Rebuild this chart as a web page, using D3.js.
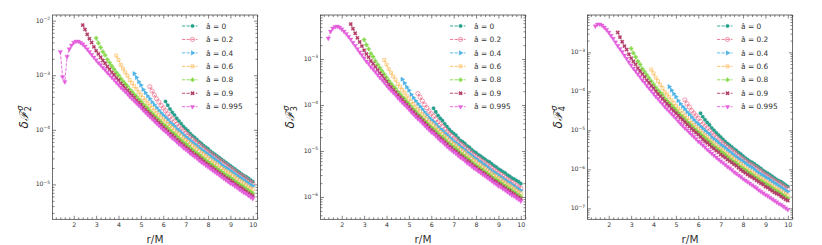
<!DOCTYPE html>
<html><head><meta charset="utf-8">
<script src="https://cdn.jsdelivr.net/npm/d3@7"></script>
<style>body{margin:0;background:#fff}svg{display:block}text{font-family:"DejaVu Sans",sans-serif}</style>
</head><body><svg id="c" width="822" height="245"></svg>
<script>
// ---- data (values are log10 of delta F) ----
const rGrid = [1.4,1.5,1.6,1.7,1.8,1.9,2.0,2.1,2.2,2.3,2.4,2.5,2.6,2.7,2.8,2.9,3.0,3.1,3.2,3.3,3.4,3.5,3.6,3.7,3.8,3.9,4.0,4.1,4.2,4.3,4.4,4.5,4.6,4.7,4.8,4.9,5.0,5.1,5.2,5.3,5.4,5.5,5.6,5.7,5.8,5.9,6.0,6.1,6.2,6.3,6.4,6.5,6.6,6.7,6.8,6.9,7.0,7.1,7.2,7.3,7.4,7.5,7.6,7.7,7.8,7.9,8.0,8.1,8.2,8.3,8.4,8.5,8.6,8.7,8.8,8.9,9.0,9.1,9.2,9.3,9.4,9.5,9.6,9.7,9.8,9.9,10.0];
const spins = ["0","0.2","0.4","0.6","0.8","0.9","0.995"];
const xTicks = [2,3,4,5,6,7,8,9,10];

// panel 1 : delta F_2
const F2_a0 = [-3.48,-3.55,-3.62,-3.68,-3.73,-3.79,-3.84,-3.89,-3.94,-3.98,-4.02,-4.07,-4.11,-4.14,-4.18,-4.22,-4.25,-4.29,-4.32,-4.35,-4.39,-4.42,-4.45,-4.48,-4.51,-4.54,-4.57,-4.60,-4.63,-4.66,-4.69,-4.72,-4.75,-4.78,-4.81,-4.84,-4.86,-4.89,-4.92,-4.95];
const F2_a02 = [-3.21,-3.29,-3.36,-3.43,-3.49,-3.55,-3.60,-3.65,-3.71,-3.76,-3.80,-3.85,-3.90,-3.94,-3.98,-4.02,-4.06,-4.09,-4.13,-4.17,-4.20,-4.23,-4.27,-4.30,-4.34,-4.37,-4.40,-4.43,-4.46,-4.49,-4.52,-4.55,-4.58,-4.61,-4.64,-4.67,-4.70,-4.73,-4.76,-4.79,-4.82,-4.84,-4.87,-4.90,-4.93,-4.96,-4.98];
const F2_a04 = [-2.97,-3.04,-3.12,-3.18,-3.26,-3.32,-3.38,-3.43,-3.49,-3.54,-3.59,-3.64,-3.69,-3.73,-3.77,-3.81,-3.86,-3.90,-3.93,-3.98,-4.01,-4.05,-4.09,-4.13,-4.16,-4.19,-4.23,-4.26,-4.29,-4.33,-4.36,-4.39,-4.42,-4.45,-4.48,-4.51,-4.54,-4.57,-4.60,-4.64,-4.67,-4.70,-4.72,-4.75,-4.78,-4.81,-4.84,-4.87,-4.89,-4.92,-4.95,-4.98,-5.01,-5.03];
const F2_a06 = [-2.64,-2.72,-2.81,-2.88,-2.95,-3.01,-3.09,-3.14,-3.20,-3.25,-3.31,-3.36,-3.42,-3.46,-3.51,-3.56,-3.60,-3.65,-3.69,-3.73,-3.78,-3.81,-3.85,-3.89,-3.93,-3.97,-4.01,-4.05,-4.08,-4.12,-4.16,-4.19,-4.22,-4.26,-4.29,-4.32,-4.35,-4.39,-4.42,-4.45,-4.48,-4.51,-4.55,-4.58,-4.61,-4.64,-4.67,-4.70,-4.73,-4.76,-4.78,-4.81,-4.84,-4.87,-4.90,-4.93,-4.95,-4.98,-5.01,-5.04,-5.07,-5.09];
const F2_a08 = [-2.32,-2.41,-2.49,-2.57,-2.63,-2.71,-2.77,-2.83,-2.89,-2.95,-3.00,-3.06,-3.11,-3.16,-3.20,-3.26,-3.30,-3.35,-3.39,-3.44,-3.48,-3.53,-3.57,-3.61,-3.66,-3.70,-3.74,-3.78,-3.82,-3.86,-3.90,-3.93,-3.97,-4.01,-4.05,-4.08,-4.12,-4.16,-4.19,-4.23,-4.26,-4.29,-4.33,-4.37,-4.40,-4.43,-4.46,-4.49,-4.53,-4.56,-4.59,-4.62,-4.65,-4.68,-4.71,-4.74,-4.77,-4.80,-4.83,-4.85,-4.88,-4.91,-4.94,-4.97,-5.00,-5.02,-5.05,-5.08,-5.11,-5.14,-5.16];
const F2_a09 = [-2.08,-2.16,-2.25,-2.33,-2.40,-2.48,-2.55,-2.61,-2.67,-2.73,-2.78,-2.84,-2.89,-2.95,-2.99,-3.05,-3.09,-3.15,-3.19,-3.24,-3.28,-3.33,-3.37,-3.41,-3.46,-3.50,-3.54,-3.59,-3.63,-3.67,-3.71,-3.75,-3.79,-3.83,-3.87,-3.91,-3.95,-3.99,-4.03,-4.07,-4.10,-4.14,-4.18,-4.21,-4.25,-4.28,-4.32,-4.35,-4.38,-4.42,-4.45,-4.48,-4.51,-4.54,-4.58,-4.61,-4.64,-4.67,-4.70,-4.73,-4.76,-4.79,-4.82,-4.85,-4.88,-4.90,-4.93,-4.96,-4.99,-5.02,-5.05,-5.07,-5.10,-5.13,-5.16,-5.19,-5.21];
const F2_a0995 = [-2.57,-3.03,-3.12,-2.66,-2.52,-2.45,-2.40,-2.38,-2.38,-2.40,-2.43,-2.47,-2.52,-2.57,-2.62,-2.67,-2.72,-2.77,-2.81,-2.86,-2.90,-2.95,-2.99,-3.04,-3.08,-3.13,-3.17,-3.22,-3.26,-3.30,-3.34,-3.39,-3.43,-3.47,-3.51,-3.55,-3.59,-3.64,-3.68,-3.72,-3.76,-3.80,-3.84,-3.88,-3.92,-3.96,-4.00,-4.03,-4.07,-4.11,-4.15,-4.18,-4.22,-4.26,-4.29,-4.33,-4.36,-4.39,-4.43,-4.46,-4.49,-4.52,-4.56,-4.59,-4.62,-4.65,-4.68,-4.71,-4.74,-4.77,-4.80,-4.83,-4.86,-4.89,-4.92,-4.95,-4.98,-5.00,-5.03,-5.06,-5.09,-5.12,-5.15,-5.17,-5.20,-5.23,-5.26];

// panel 2 : delta F_3
const F3_a0 = [-4.07,-4.15,-4.23,-4.29,-4.34,-4.41,-4.47,-4.53,-4.58,-4.62,-4.66,-4.72,-4.77,-4.80,-4.84,-4.89,-4.92,-4.97,-5.01,-5.04,-5.08,-5.11,-5.15,-5.18,-5.22,-5.24,-5.28,-5.32,-5.35,-5.39,-5.42,-5.45,-5.48,-5.52,-5.55,-5.59,-5.61,-5.64,-5.67,-5.71];
const F3_a02 = [-3.75,-3.83,-3.91,-3.99,-4.06,-4.13,-4.19,-4.24,-4.31,-4.37,-4.42,-4.47,-4.53,-4.58,-4.63,-4.67,-4.72,-4.75,-4.80,-4.85,-4.88,-4.92,-4.97,-5.00,-5.05,-5.09,-5.12,-5.16,-5.19,-5.23,-5.26,-5.30,-5.33,-5.37,-5.41,-5.44,-5.48,-5.51,-5.55,-5.58,-5.62,-5.64,-5.68,-5.71,-5.75,-5.78,-5.81];
const F3_a04 = [-3.44,-3.52,-3.61,-3.68,-3.77,-3.84,-3.91,-3.97,-4.03,-4.09,-4.15,-4.21,-4.27,-4.32,-4.36,-4.41,-4.47,-4.52,-4.55,-4.61,-4.65,-4.70,-4.74,-4.79,-4.82,-4.86,-4.91,-4.94,-4.98,-5.03,-5.06,-5.10,-5.14,-5.17,-5.21,-5.24,-5.28,-5.31,-5.35,-5.39,-5.43,-5.47,-5.49,-5.53,-5.56,-5.60,-5.63,-5.67,-5.69,-5.73,-5.76,-5.80,-5.83,-5.86];
const F3_a06 = [-3.02,-3.12,-3.22,-3.30,-3.38,-3.45,-3.54,-3.60,-3.67,-3.73,-3.80,-3.86,-3.93,-3.98,-4.04,-4.10,-4.14,-4.20,-4.25,-4.30,-4.36,-4.40,-4.44,-4.49,-4.54,-4.59,-4.63,-4.68,-4.72,-4.77,-4.81,-4.85,-4.88,-4.93,-4.97,-5.00,-5.04,-5.09,-5.12,-5.16,-5.20,-5.23,-5.28,-5.31,-5.35,-5.38,-5.42,-5.45,-5.49,-5.53,-5.55,-5.59,-5.62,-5.66,-5.69,-5.73,-5.75,-5.79,-5.82,-5.86,-5.89,-5.92];
const F3_a08 = [-2.58,-2.69,-2.78,-2.88,-2.95,-3.04,-3.12,-3.19,-3.26,-3.33,-3.40,-3.47,-3.53,-3.59,-3.64,-3.71,-3.76,-3.82,-3.87,-3.93,-3.98,-4.04,-4.09,-4.14,-4.20,-4.24,-4.29,-4.34,-4.39,-4.44,-4.49,-4.52,-4.57,-4.62,-4.67,-4.70,-4.75,-4.80,-4.84,-4.88,-4.92,-4.95,-5.00,-5.05,-5.08,-5.12,-5.16,-5.19,-5.24,-5.28,-5.31,-5.35,-5.38,-5.42,-5.45,-5.49,-5.52,-5.56,-5.60,-5.62,-5.66,-5.69,-5.73,-5.76,-5.80,-5.82,-5.86,-5.89,-5.93,-5.96,-5.99];
const F3_a09 = [-2.24,-2.34,-2.44,-2.54,-2.63,-2.72,-2.81,-2.89,-2.96,-3.04,-3.10,-3.17,-3.24,-3.31,-3.36,-3.43,-3.49,-3.56,-3.61,-3.67,-3.72,-3.78,-3.83,-3.88,-3.94,-3.99,-4.04,-4.10,-4.15,-4.20,-4.25,-4.29,-4.34,-4.39,-4.44,-4.49,-4.54,-4.58,-4.63,-4.68,-4.72,-4.76,-4.81,-4.85,-4.90,-4.93,-4.98,-5.01,-5.05,-5.10,-5.13,-5.17,-5.21,-5.24,-5.29,-5.33,-5.36,-5.40,-5.43,-5.47,-5.50,-5.54,-5.57,-5.61,-5.65,-5.67,-5.71,-5.74,-5.78,-5.81,-5.85,-5.87,-5.91,-5.94,-5.98,-6.01,-6.04];
const F3_a0995 = [-2.55,-2.40,-2.33,-2.30,-2.29,-2.31,-2.35,-2.40,-2.45,-2.51,-2.57,-2.64,-2.71,-2.78,-2.85,-2.91,-2.98,-3.05,-3.10,-3.17,-3.22,-3.28,-3.34,-3.40,-3.45,-3.51,-3.57,-3.63,-3.68,-3.73,-3.78,-3.84,-3.89,-3.94,-3.99,-4.04,-4.09,-4.15,-4.20,-4.25,-4.30,-4.34,-4.39,-4.44,-4.49,-4.54,-4.59,-4.62,-4.67,-4.72,-4.77,-4.80,-4.85,-4.90,-4.94,-4.98,-5.02,-5.05,-5.10,-5.14,-5.17,-5.21,-5.26,-5.29,-5.33,-5.37,-5.40,-5.44,-5.47,-5.51,-5.54,-5.58,-5.61,-5.65,-5.69,-5.72,-5.76,-5.78,-5.82,-5.85,-5.89,-5.92,-5.96,-5.98,-6.02,-6.05,-6.09];

// panel 3 : delta F_4
const F4_a0 = [-4.56,-4.65,-4.73,-4.80,-4.86,-4.94,-5.00,-5.06,-5.12,-5.17,-5.23,-5.29,-5.34,-5.38,-5.43,-5.48,-5.52,-5.57,-5.61,-5.66,-5.71,-5.75,-5.79,-5.82,-5.86,-5.90,-5.94,-5.98,-6.03,-6.07,-6.10,-6.14,-6.18,-6.22,-6.26,-6.29,-6.32,-6.36,-6.40,-6.44];
const F4_a02 = [-4.22,-4.32,-4.40,-4.49,-4.56,-4.63,-4.69,-4.77,-4.84,-4.90,-4.95,-5.01,-5.08,-5.13,-5.18,-5.24,-5.29,-5.33,-5.38,-5.43,-5.47,-5.51,-5.56,-5.60,-5.66,-5.70,-5.74,-5.78,-5.82,-5.86,-5.89,-5.93,-5.97,-6.01,-6.05,-6.10,-6.14,-6.17,-6.21,-6.25,-6.29,-6.32,-6.35,-6.39,-6.43,-6.47,-6.50];
const F4_a04 = [-3.88,-3.97,-4.06,-4.14,-4.24,-4.32,-4.39,-4.45,-4.53,-4.59,-4.66,-4.73,-4.79,-4.84,-4.90,-4.95,-5.01,-5.06,-5.10,-5.18,-5.22,-5.27,-5.32,-5.37,-5.41,-5.45,-5.50,-5.54,-5.59,-5.64,-5.68,-5.72,-5.76,-5.80,-5.84,-5.88,-5.92,-5.95,-6.00,-6.05,-6.09,-6.13,-6.16,-6.20,-6.23,-6.27,-6.31,-6.35,-6.38,-6.42,-6.46,-6.50,-6.54,-6.57];
const F4_a06 = [-3.44,-3.54,-3.65,-3.74,-3.83,-3.91,-4.01,-4.08,-4.15,-4.23,-4.30,-4.37,-4.44,-4.50,-4.56,-4.62,-4.69,-4.75,-4.81,-4.86,-4.92,-4.96,-5.02,-5.08,-5.13,-5.18,-5.23,-5.29,-5.33,-5.38,-5.43,-5.47,-5.52,-5.57,-5.61,-5.65,-5.69,-5.74,-5.78,-5.82,-5.86,-5.91,-5.96,-6.00,-6.04,-6.07,-6.11,-6.15,-6.19,-6.23,-6.26,-6.30,-6.34,-6.38,-6.42,-6.46,-6.49,-6.52,-6.56,-6.60,-6.64,-6.67];
const F4_a08 = [-2.90,-3.02,-3.12,-3.23,-3.31,-3.42,-3.50,-3.58,-3.66,-3.74,-3.82,-3.90,-3.97,-4.03,-4.09,-4.18,-4.24,-4.30,-4.36,-4.42,-4.48,-4.55,-4.61,-4.66,-4.72,-4.78,-4.83,-4.89,-4.95,-5.00,-5.05,-5.10,-5.15,-5.20,-5.25,-5.30,-5.36,-5.41,-5.45,-5.50,-5.54,-5.58,-5.63,-5.68,-5.73,-5.77,-5.81,-5.85,-5.90,-5.94,-5.98,-6.02,-6.06,-6.10,-6.14,-6.18,-6.22,-6.26,-6.30,-6.33,-6.37,-6.40,-6.44,-6.48,-6.52,-6.56,-6.59,-6.63,-6.67,-6.71,-6.74];
const F4_a09 = [-2.49,-2.61,-2.73,-2.84,-2.93,-3.05,-3.15,-3.23,-3.31,-3.41,-3.48,-3.56,-3.63,-3.72,-3.78,-3.86,-3.92,-4.00,-4.07,-4.13,-4.19,-4.26,-4.32,-4.37,-4.45,-4.50,-4.56,-4.62,-4.68,-4.73,-4.79,-4.85,-4.90,-4.96,-5.01,-5.06,-5.11,-5.17,-5.23,-5.28,-5.32,-5.37,-5.43,-5.47,-5.52,-5.56,-5.62,-5.66,-5.70,-5.75,-5.79,-5.83,-5.87,-5.91,-5.96,-6.01,-6.05,-6.09,-6.13,-6.17,-6.20,-6.24,-6.28,-6.32,-6.36,-6.39,-6.44,-6.47,-6.51,-6.55,-6.59,-6.62,-6.65,-6.69,-6.73,-6.77,-6.80];
const F4_a0995 = [-2.33,-2.28,-2.28,-2.31,-2.36,-2.42,-2.49,-2.57,-2.65,-2.74,-2.83,-2.91,-2.99,-3.08,-3.16,-3.25,-3.33,-3.41,-3.48,-3.56,-3.63,-3.71,-3.77,-3.85,-3.92,-3.99,-4.06,-4.13,-4.19,-4.26,-4.32,-4.39,-4.45,-4.51,-4.57,-4.63,-4.69,-4.76,-4.82,-4.88,-4.94,-4.99,-5.05,-5.11,-5.16,-5.22,-5.28,-5.32,-5.38,-5.43,-5.49,-5.54,-5.59,-5.64,-5.69,-5.74,-5.79,-5.83,-5.88,-5.93,-5.97,-6.01,-6.07,-6.11,-6.15,-6.19,-6.24,-6.28,-6.32,-6.36,-6.40,-6.44,-6.48,-6.53,-6.57,-6.61,-6.65,-6.68,-6.72,-6.76,-6.80,-6.84,-6.88,-6.91,-6.95,-6.99,-7.03];

const panelSeries = [
  [F2_a0,F2_a02,F2_a04,F2_a06,F2_a08,F2_a09,F2_a0995],
  [F3_a0,F3_a02,F3_a04,F3_a06,F3_a08,F3_a09,F3_a0995],
  [F4_a0,F4_a02,F4_a04,F4_a06,F4_a08,F4_a09,F4_a0995]
];
const panelIndex = ["2","3","4"];
const yDomainsExp = [[-5.64,-1.896],[-6.485,-2.043],[-7.28,-2.044]];

// ---- style ----
const colors = ["#26a08d","#ef6f8c","#4fb3e6","#fdbc5c","#86d94a","#b33d68","#e45fdc"];
const panelX = [52.5, 320.5, 587.5];
const ylabX = [28, 293.5, 561.5];
const W = 205, H = 204.3, TOP = 15;
const xDomain = [1.05, 10.21];

const svg = d3.select("#c");

function markerPath(i){
  const s = [d3.symbolCircle,d3.symbolCircle,d3.symbolTriangle,d3.symbolSquare,d3.symbolCross,d3.symbolCross,d3.symbolTriangle][i];
  const size = [10,14,9,9,9,9,9][i];
  return d3.symbol().type(s).size(size)();
}
const markerRot = [0,0,90,0,0,45,180];
const markerOpen = [false,true,false,true,false,false,false];

function drawMarker(g, i, cx, cy){
  const p = g.append("path").attr("d", markerPath(i))
    .attr("transform", `translate(${cx},${cy}) rotate(${markerRot[i]})`);
  if (markerOpen[i]) p.attr("fill","none").attr("stroke",colors[i]).attr("stroke-width",0.7);
  else p.attr("fill",colors[i]).attr("stroke",colors[i]).attr("stroke-width",0.3);
}

panelSeries.forEach((series, pi) => {
  const g = svg.append("g").attr("transform", `translate(${panelX[pi]},${TOP})`);
  const x = d3.scaleLinear().domain(xDomain).range([0, W]);
  const y = d3.scaleLog().domain([Math.pow(10,yDomainsExp[pi][0]), Math.pow(10,yDomainsExp[pi][1])]).range([H, 0]);

  const xMinor = d3.range(12, 103, 2).map(v => v/10).filter(v => v > xDomain[0] && v < xDomain[1] && Math.abs(v - Math.round(v)) > 1e-6);
  const e0 = Math.ceil(yDomainsExp[pi][0]), e1 = Math.floor(yDomainsExp[pi][1]);
  const yMajor = d3.range(e0, e1+1).map(e => Math.pow(10,e));
  const yMinor = [];
  for (let e = Math.floor(yDomainsExp[pi][0]); e <= e1; e++) for (let m = 2; m <= 9; m++) {
    const v = m*Math.pow(10,e); const lv = Math.log10(v);
    if (lv > yDomainsExp[pi][0] && lv < yDomainsExp[pi][1]) yMinor.push(v);
  }
  const axStyle = sel => { sel.select(".domain").remove(); sel.selectAll("line").attr("stroke","#333").attr("stroke-width",0.6); sel.selectAll("text").attr("fill","#333").attr("font-size",6.3).attr("font-family","DejaVu Sans"); };

  g.append("g").attr("transform",`translate(0,${H})`).call(d3.axisBottom(x).tickValues(xTicks).tickSize(-3.5).tickPadding(3).tickFormat(d3.format("d"))).call(axStyle);
  g.append("g").attr("transform",`translate(0,${H})`).call(d3.axisBottom(x).tickValues(xMinor).tickSize(-2).tickFormat("")).call(axStyle);
  g.append("g").call(d3.axisTop(x).tickValues(xTicks).tickSize(-3.5).tickFormat("")).call(axStyle);
  g.append("g").call(d3.axisTop(x).tickValues(xMinor).tickSize(-2).tickFormat("")).call(axStyle);
  g.append("g").call(d3.axisLeft(y).tickValues(yMajor).tickSize(-3.5).tickPadding(2.5).tickFormat("")).call(axStyle);
  g.append("g").call(d3.axisLeft(y).tickValues(yMinor).tickSize(-2).tickFormat("")).call(axStyle);
  g.append("g").attr("transform",`translate(${W},0)`).call(d3.axisRight(y).tickValues(yMajor).tickSize(-3.5).tickFormat("")).call(axStyle);
  g.append("g").attr("transform",`translate(${W},0)`).call(d3.axisRight(y).tickValues(yMinor).tickSize(-2).tickFormat("")).call(axStyle);
  yMajor.forEach(v => {
    const e = Math.round(Math.log10(v));
    const t = g.append("text").attr("x",-2.5).attr("y",y(v)+2).attr("text-anchor","end")
      .attr("font-size",6.2).attr("fill","#333");
    t.append("tspan").text("10");
    t.append("tspan").attr("dy",-2.6).attr("font-size",4.4).text("\u2212"+Math.abs(e));
  });

  const clipId = "clip"+pi;
  g.append("clipPath").attr("id",clipId).append("rect").attr("width",W).attr("height",H);
  const plot = g.append("g").attr("clip-path",`url(#${clipId})`);

  series.forEach((vals, si) => {
    const rs = rGrid.slice(rGrid.length - vals.length);
    const pts = vals.map((v,k) => ({r: rs[k], v: Math.pow(10,v)}));
    const line = d3.line().x(d => x(d.r)).y(d => y(d.v));
    plot.append("path").attr("d", line(pts)).attr("fill","none").attr("stroke",colors[si])
      .attr("stroke-width",0.9).attr("stroke-dasharray","3.2,1.4");
    pts.forEach(d => drawMarker(plot, si, x(d.r), y(d.v)));
  });

  g.append("rect").attr("width",W).attr("height",H).attr("fill","none").attr("stroke","#333").attr("stroke-width",0.7);

  const lg = g.append("g");
  spins.forEach((s, si) => {
    const yy = 11 + si*13.45;
    lg.append("line").attr("x1",129.5).attr("x2",145).attr("y1",yy).attr("y2",yy)
      .attr("stroke",colors[si]).attr("stroke-width",0.9).attr("stroke-dasharray","3.2,1.4");
    drawMarker(lg, si, 140, yy);
    lg.append("text").attr("x",153.5).attr("y",yy+2.6).attr("font-size",7.4).attr("fill","#333")
      .text("\u00e2 = " + s);
  });

  svg.append("text").attr("x",panelX[pi]+W/2).attr("y",243).attr("text-anchor","middle")
    .attr("font-size",10.5).attr("fill","#333").text("r/M");
  const yl = svg.append("text").attr("transform",`translate(${ylabX[pi]},${TOP+H/2}) rotate(-90)`)
    .attr("text-anchor","middle").attr("font-size",12).attr("fill","#222");
  yl.append("tspan").attr("font-style","italic").text("\u03b4");
  yl.append("tspan").attr("font-family","DejaVu Serif").attr("font-style","italic").text("\u2131");
  yl.append("tspan").attr("dy",3).attr("font-size",8).text(panelIndex[pi]);
  yl.append("tspan").attr("dy",-8).attr("dx",-4.6).attr("font-size",8).attr("font-style","italic").text("\u03c3");
});
</script></body></html>
